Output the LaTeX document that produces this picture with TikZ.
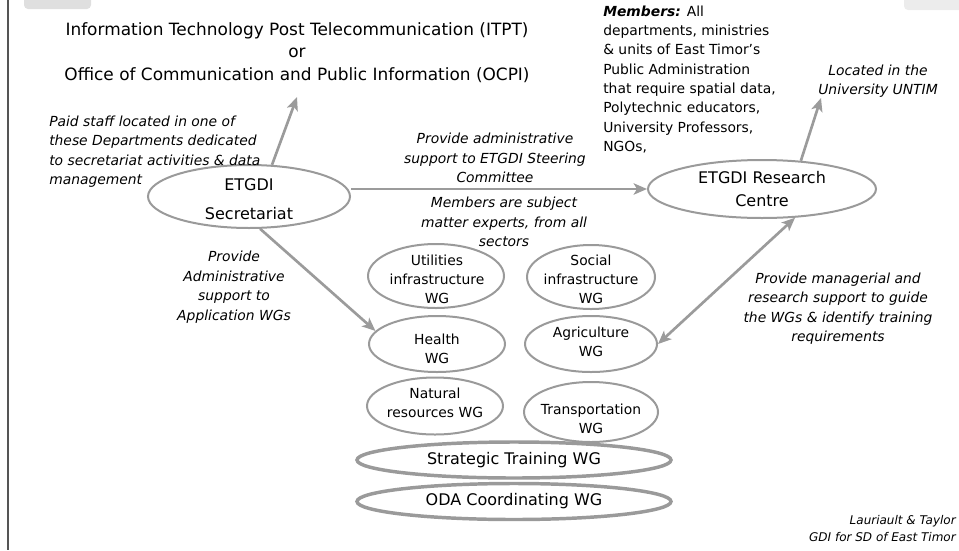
\documentclass[tikz,border=0pt]{standalone}
\usepackage{fontspec}
\setmainfont{DejaVu Sans}
\usetikzlibrary{shapes.geometric,arrows.meta}
\definecolor{linegray}{HTML}{9B9B9B}
\definecolor{ringgray}{HTML}{9A9A9A}
\definecolor{framegray}{HTML}{555555}
\begin{document}
\begin{tikzpicture}[x=0.75pt,y=-0.75pt,
  arr/.style={draw=linegray,line width=2pt,-{Stealth[length=10pt,width=8.5pt,inset=2.5pt]}},
  darr/.style={draw=linegray,line width=2pt,{Stealth[length=10pt,width=8.5pt,inset=2.5pt]}-{Stealth[length=10pt,width=8.5pt,inset=2.5pt]}},
  ell/.style={ellipse,draw=ringgray,line width=1.5pt,inner sep=0pt},
  bandell/.style={ellipse,draw=ringgray,line width=2.6pt,inner sep=0pt,minimum width=235.5pt,minimum height=27pt},
  bigtxt/.style={font=\fontsize{12}{17}\selectfont,align=center,inner sep=0pt},
  wgtxt/.style={font=\fontsize{10.4}{14.25}\selectfont,align=center,inner sep=0pt},
  note/.style={font=\fontsize{10.4}{14.6}\selectfont\itshape,inner sep=0pt},
  plain/.style={font=\fontsize{10.4}{14.5}\selectfont,inner sep=0pt},
  foot/.style={font=\fontsize{9}{12.75}\selectfont\itshape,inner sep=0pt,align=right},
]
\useasboundingbox (0,0) rectangle (959,550);
% decorations
\fill[gray!25,rounded corners=3pt] (24,-6) rectangle (91,9);
\fill[gray!15,rounded corners=3pt] (904,-6) rectangle (965,10);
\draw[framegray,line width=1.1pt] (8,0) -- (8,550);

% title
\node[bigtxt,font=\fontsize{12.7}{17}\selectfont] (itpt) at (297,52.5) {Information Technology Post Telecommunication (ITPT)\\or\\Office of Communication and Public Information (OCPI)};
\coordinate (itptArr) at (297,97);

% main ellipses
\node[ell,minimum width=151.5pt,minimum height=47.25pt] (sec) at (249,196.5) {};
\node[bigtxt,font=\fontsize{12}{21.5}\selectfont] (secT) at (249,199.5) {ETGDI\\Secretariat};
\node[ell,minimum width=171pt,minimum height=43.5pt] (rc) at (762,189) {};
\node[bigtxt] (rcT) at (rc) {ETGDI Research\\Centre};
\coordinate (untimArr) at (821,98);

% WG ellipses
\node[ell,minimum width=102pt,minimum height=48pt] (util) at (436,276) {};
\node[wgtxt] (utilT) at (437,279) {Utilities\\infrastructure\\WG};
\node[ell,minimum width=96pt,minimum height=48pt] (soc) at (591,277) {};
\node[wgtxt] (socT) at (591,279) {Social\\infrastructure\\WG};
\node[ell,minimum width=102pt,minimum height=42pt] (health) at (437,344) {};
\node[wgtxt] (healthT) at (437,348.5) {Health\\WG};
\node[ell,minimum width=99pt,minimum height=42pt] (agri) at (591,344) {};
\node[wgtxt] (agriT) at (591,342) {Agriculture\\WG};
\node[ell,minimum width=102pt,minimum height=42.75pt] (nat) at (435,406) {};
\node[wgtxt] (natT) at (435,403) {Natural\\resources WG};
\node[ell,minimum width=100.5pt,minimum height=45pt] (trans) at (591,412) {};
\node[wgtxt] (transT) at (591,418.5) {Transportation\\WG};
\node[bandell] (strat) at (514,460) {};
\node[bigtxt] (stratT) at (514,460) {Strategic Training WG};
\node[bandell] (oda) at (514,501.5) {};
\node[bigtxt] (odaT) at (514,501.5) {ODA Coordinating WG};

% labels
\node[note,anchor=west,align=left] (paid) at (49,151.5) {Paid staff located in one of\\these Departments dedicated\\to secretariat activities \& data\\management};
\node[note,align=center] (adm) at (495,158) {Provide administrative\\support to ETGDI Steering\\Committee};
\node[note,align=center] (experts) at (504,222) {Members are subject\\matter experts, from all\\sectors};
\node[plain,anchor=west,align=left] (members) at (603,79.5) {\textbf{\textit{Members:}} All\\departments, ministries\\\& units of East Timor’s\\Public Administration\\that require spatial data,\\Polytechnic educators,\\University Professors,\\NGOs,};
\node[note,align=center] (located) at (878,81) {Located in the\\University UNTIM};
\node[note,align=center] (appl) at (234,287) {Provide\\Administrative\\support to\\Application WGs};
\node[note,align=center] (manag) at (838,308.5) {Provide managerial and\\research support to guide\\the WGs \& identify training\\requirements};
\node[foot,anchor=east] (credit) at (956,529) {Lauriault \& Taylor\\GDI for SD of East Timor};

% connectors
\draw[arr] (sec.54) -- (itptArr);
\draw[arr] (sec.east |- rc.west) -- (rc.west);
\draw[arr] (rc.36) -- (untimArr);
\draw[arr] (sec.-71) -- (health.168);
\draw[darr] (agri.east) -- (rc.-41);
\end{tikzpicture}
\end{document}
